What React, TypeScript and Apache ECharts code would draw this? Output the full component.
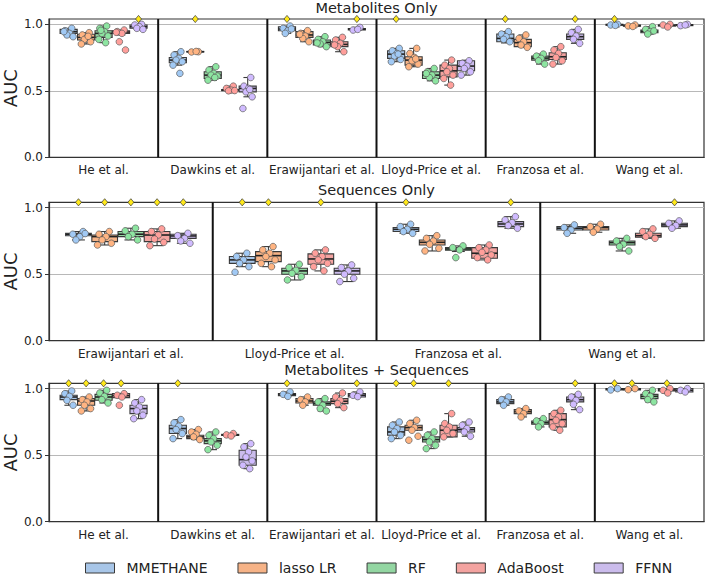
import React, { useEffect, useRef } from "react";
import * as echarts from "echarts";

// Models compared in every study
const MODELS = ["MMETHANE", "lasso LR", "RF", "AdaBoost", "FFNN"];
// Box fills (desaturated pastel) and point fills (pastel)
const BOX_COLORS = ["#a8c6e8", "#f6b387", "#93d6a2", "#f3a3a0", "#cbbcec"];
const POINT_COLORS = ["#a1c9f4", "#ffb482", "#8de5a1", "#ff9f9b", "#d0bbff"];

const TITLES = ["Metabolites Only", "Sequences Only", "Metabolites + Sequences"];
const STUDIES_MET = ["He et al.", "Dawkins et al.", "Erawijantari et al.", "Lloyd-Price et al.", "Franzosa et al.", "Wang et al."];
const STUDIES_SEQ = ["Erawijantari et al.", "Lloyd-Price et al.", "Franzosa et al.", "Wang et al."];
const STUDIES_BOTH = STUDIES_MET;

const Y_TICKS = [0, 0.5, 1.0];
const Y_MAX = 1.04; // row of significance markers sits on the top spine

// Box statistics: [study][model] = [whiskerLow, q1, median, q3, whiskerHigh]
const MET_BOX = [
  [[0.907, 0.932, 0.945, 0.962, 0.970], [0.852, 0.882, 0.902, 0.925, 0.937], [0.862, 0.902, 0.932, 0.952, 0.987], [0.920, 0.932, 0.942, 0.952, 0.957], [0.962, 0.970, 0.982, 0.995, 1.0]],
  [[0.693, 0.711, 0.731, 0.751, 0.794], [0.790, 0.792, 0.794, 0.796, 0.798], [0.580, 0.593, 0.618, 0.643, 0.681], [0.498, 0.500, 0.505, 0.510, 0.535], [0.455, 0.492, 0.518, 0.535, 0.600]],
  [[0.932, 0.952, 0.965, 0.982, 0.987], [0.869, 0.902, 0.920, 0.945, 0.952], [0.832, 0.844, 0.864, 0.882, 0.907], [0.794, 0.832, 0.849, 0.869, 0.902], [0.955, 0.958, 0.963, 0.968, 0.977]],
  [[0.719, 0.744, 0.776, 0.801, 0.819], [0.681, 0.693, 0.731, 0.756, 0.819], [0.575, 0.593, 0.618, 0.643, 0.668], [0.543, 0.605, 0.650, 0.693, 0.731], [0.618, 0.651, 0.686, 0.726, 0.730]],
  [[0.860, 0.869, 0.894, 0.927, 0.945], [0.827, 0.832, 0.862, 0.887, 0.920], [0.701, 0.731, 0.746, 0.761, 0.776], [0.701, 0.736, 0.756, 0.786, 0.832], [0.857, 0.887, 0.907, 0.927, 0.962]],
  [[0.990, 0.993, 0.997, 1.0, 1.0], [0.982, 0.985, 0.990, 0.995, 0.998], [0.927, 0.937, 0.947, 0.957, 0.982], [0.980, 0.987, 0.992, 0.995, 1.0], [0.988, 0.990, 0.995, 0.998, 1.0]],
];
const MET_PTS = [
  [[0.970, 0.952, 0.932, 0.920, 0.907, 0.945], [0.937, 0.920, 0.902, 0.887, 0.869, 0.852, 0.910], [0.987, 0.970, 0.945, 0.932, 0.912, 0.887, 0.862, 0.955], [0.957, 0.945, 0.932, 0.869, 0.807, 0.940], [1.0, 0.995, 0.982, 0.970, 0.962]],
  [[0.794, 0.769, 0.744, 0.731, 0.719, 0.693, 0.631], [0.794, 0.792, 0.796], [0.681, 0.656, 0.631, 0.618, 0.611, 0.580, 0.600], [0.535, 0.518, 0.505, 0.500, 0.502], [0.600, 0.535, 0.518, 0.492, 0.455, 0.367, 0.510]],
  [[0.987, 0.970, 0.952, 0.932, 0.965], [0.952, 0.932, 0.912, 0.894, 0.869, 0.925], [0.907, 0.887, 0.869, 0.852, 0.832, 0.860], [0.902, 0.882, 0.857, 0.832, 0.794, 0.845], [0.977, 0.957, 0.962]],
  [[0.819, 0.801, 0.781, 0.761, 0.736, 0.719, 0.776], [0.819, 0.781, 0.751, 0.726, 0.701, 0.681, 0.740], [0.668, 0.643, 0.618, 0.600, 0.575, 0.630], [0.731, 0.693, 0.668, 0.643, 0.618, 0.593, 0.543], [0.726, 0.706, 0.686, 0.668, 0.643, 0.618]],
  [[0.945, 0.927, 0.907, 0.887, 0.869], [0.920, 0.894, 0.869, 0.844, 0.827], [0.776, 0.761, 0.744, 0.726, 0.701], [0.832, 0.807, 0.781, 0.751, 0.726, 0.701], [0.962, 0.937, 0.912, 0.887, 0.857]],
  [[1.0, 0.995, 0.992], [0.995, 0.988, 0.984], [0.982, 0.962, 0.945, 0.927, 0.950], [1.0, 0.995, 0.980], [1.0, 0.990, 0.995]],
];

const SEQ_BOX = [
  [[0.757, 0.789, 0.800, 0.807, 0.820], [0.719, 0.744, 0.782, 0.794, 0.820], [0.757, 0.782, 0.800, 0.820, 0.845], [0.714, 0.744, 0.794, 0.820, 0.840], [0.732, 0.769, 0.787, 0.800, 0.807]],
  [[0.556, 0.581, 0.607, 0.632, 0.657], [0.556, 0.594, 0.639, 0.669, 0.707], [0.456, 0.499, 0.524, 0.544, 0.574], [0.524, 0.574, 0.614, 0.652, 0.682], [0.444, 0.499, 0.524, 0.544, 0.569]],
  [[0.807, 0.820, 0.837, 0.850, 0.875], [0.674, 0.719, 0.739, 0.757, 0.789], [0.670, 0.679, 0.689, 0.699, 0.712], [0.607, 0.619, 0.657, 0.699, 0.719], [0.845, 0.857, 0.877, 0.895, 0.932]],
  [[0.807, 0.832, 0.845, 0.857, 0.870], [0.815, 0.832, 0.850, 0.857, 0.875], [0.674, 0.719, 0.737, 0.749, 0.769], [0.769, 0.777, 0.789, 0.807, 0.840], [0.845, 0.857, 0.870, 0.882, 0.900]],
];
const SEQ_PTS = [
  [[0.820, 0.800, 0.782, 0.757, 0.805], [0.820, 0.800, 0.782, 0.757, 0.732, 0.719], [0.845, 0.825, 0.800, 0.782, 0.757], [0.840, 0.820, 0.794, 0.764, 0.739, 0.714], [0.807, 0.789, 0.769, 0.749, 0.732]],
  [[0.657, 0.632, 0.607, 0.581, 0.556, 0.514], [0.707, 0.682, 0.657, 0.632, 0.607, 0.581, 0.556], [0.574, 0.549, 0.529, 0.506, 0.481, 0.456], [0.682, 0.657, 0.632, 0.607, 0.581, 0.556, 0.524], [0.569, 0.549, 0.524, 0.499, 0.469, 0.444]],
  [[0.875, 0.857, 0.837, 0.820, 0.807], [0.789, 0.769, 0.749, 0.724, 0.694, 0.674], [0.712, 0.699, 0.682, 0.624], [0.719, 0.699, 0.682, 0.664, 0.644, 0.624, 0.607], [0.932, 0.907, 0.887, 0.865, 0.845]],
  [[0.870, 0.850, 0.832, 0.807], [0.875, 0.857, 0.840, 0.815], [0.769, 0.749, 0.724, 0.707, 0.674], [0.840, 0.820, 0.800, 0.782, 0.769], [0.900, 0.882, 0.865, 0.845]],
];

const BOTH_BOX = [
  [[0.875, 0.917, 0.937, 0.950, 0.982], [0.832, 0.875, 0.907, 0.925, 0.937], [0.892, 0.912, 0.937, 0.957, 0.987], [0.932, 0.932, 0.947, 0.962, 0.962], [0.774, 0.812, 0.850, 0.875, 0.917]],
  [[0.624, 0.662, 0.700, 0.724, 0.767], [0.617, 0.624, 0.637, 0.649, 0.692], [0.541, 0.586, 0.607, 0.624, 0.674], [0.644, 0.648, 0.652, 0.656, 0.662], [0.398, 0.424, 0.466, 0.536, 0.586]],
  [[0.942, 0.947, 0.957, 0.962, 0.975], [0.875, 0.892, 0.907, 0.925, 0.937], [0.832, 0.875, 0.887, 0.900, 0.925], [0.857, 0.887, 0.905, 0.925, 0.967], [0.937, 0.937, 0.950, 0.962, 0.975]],
  [[0.624, 0.649, 0.674, 0.712, 0.749], [0.687, 0.687, 0.707, 0.724, 0.762], [0.549, 0.599, 0.617, 0.637, 0.674], [0.637, 0.637, 0.687, 0.724, 0.812], [0.642, 0.674, 0.692, 0.707, 0.749]],
  [[0.875, 0.887, 0.900, 0.917, 0.937], [0.787, 0.812, 0.827, 0.842, 0.850], [0.712, 0.732, 0.744, 0.757, 0.774], [0.687, 0.712, 0.767, 0.812, 0.837], [0.842, 0.900, 0.917, 0.937, 0.957]],
  [[0.990, 0.990, 0.997, 1.0, 1.0], [0.990, 0.990, 0.997, 1.0, 1.0], [0.900, 0.925, 0.942, 0.957, 0.987], [0.967, 0.982, 0.990, 1.0, 1.0], [0.975, 0.975, 0.987, 1.0, 1.0]],
];
const BOTH_PTS = [
  [[0.982, 0.962, 0.942, 0.912, 0.875], [0.937, 0.917, 0.900, 0.875, 0.850, 0.832], [0.987, 0.967, 0.942, 0.917, 0.892], [0.962, 0.950, 0.937, 0.875], [0.917, 0.892, 0.862, 0.832, 0.800, 0.774]],
  [[0.767, 0.742, 0.717, 0.692, 0.662, 0.624], [0.692, 0.674, 0.657, 0.637, 0.617], [0.674, 0.649, 0.624, 0.599, 0.574, 0.541], [0.662, 0.652, 0.644], [0.586, 0.561, 0.524, 0.486, 0.456, 0.424, 0.398]],
  [[0.975, 0.957, 0.942], [0.937, 0.917, 0.900, 0.875], [0.925, 0.900, 0.875, 0.850, 0.832], [0.967, 0.937, 0.912, 0.887, 0.857], [0.975, 0.950, 0.940]],
  [[0.749, 0.724, 0.699, 0.674, 0.649, 0.624], [0.762, 0.737, 0.707, 0.687, 0.642, 0.612], [0.674, 0.649, 0.624, 0.599, 0.574, 0.549], [0.812, 0.737, 0.712, 0.687, 0.662, 0.637], [0.749, 0.724, 0.699, 0.674, 0.642]],
  [[0.937, 0.917, 0.900, 0.875], [0.850, 0.832, 0.812, 0.787], [0.774, 0.757, 0.737, 0.712], [0.837, 0.812, 0.787, 0.762, 0.737, 0.712, 0.687], [0.957, 0.937, 0.912, 0.882, 0.842]],
  [[1.0, 0.990], [1.0, 0.992], [0.987, 0.962, 0.942, 0.917, 0.900], [1.0, 0.987, 0.967], [1.0, 0.987, 0.975]],
];

// Significance markers: [study index, model index]
const MET_SIG = [[0, 4], [1, 1], [2, 0], [2, 4], [3, 0], [4, 0], [4, 4], [5, 0]];
const SEQ_SIG = [[0, 0], [0, 1], [0, 2], [0, 3], [0, 4], [1, 0], [1, 1], [1, 3], [2, 0], [2, 4], [3, 4]];
const BOTH_SIG = [[0, 0], [0, 1], [0, 2], [0, 3], [1, 0], [2, 0], [2, 4], [3, 0], [3, 1], [3, 3], [4, 4], [5, 0], [5, 1], [5, 3]];

// Horizontal strip-plot spread, as a fraction of box width
const JITTER = [0.18, -0.22, 0.05, -0.1, 0.26, -0.28, 0.12, -0.16, 0.3];

const FONT = "DejaVu Sans";
const EDGE = "#3a3a3a";
const SPINE = "#333333";
const DODGE = 0.16; // per-model share of a study band
const BOX_W = 0.16 * 0.98;

const PANELS = [
  { title: TITLES[0], studies: STUDIES_MET, box: MET_BOX, pts: MET_PTS, sig: MET_SIG, top: 19, titleY: 7.5 },
  { title: TITLES[1], studies: STUDIES_SEQ, box: SEQ_BOX, pts: SEQ_PTS, sig: SEQ_SIG, top: 202.3, titleY: 190 },
  { title: TITLES[2], studies: STUDIES_BOTH, box: BOTH_BOX, pts: BOTH_PTS, sig: BOTH_SIG, top: 383.3, titleY: 370 },
];
const PLOT_H = 138.3;

function modelX(api: any, s: number, k: number) {
  const band = api.size([1, 0])[0];
  return { cx: api.coord([s, 0])[0] + (k - 2) * DODGE * band, w: BOX_W * band, band };
}

function buildOption() {
  const grid: any[] = [];
  const xAxis: any[] = [];
  const yAxis: any[] = [];
  const series: any[] = [];
  const graphic: any[] = [];

  PANELS.forEach((p, pi) => {
    grid.push({
      left: 49, right: 3, top: p.top, height: PLOT_H,
      containLabel: false, outerBoundsMode: "none",
      show: true, borderColor: SPINE, borderWidth: 1.2, backgroundColor: "transparent",
    });
    xAxis.push({
      gridIndex: pi, type: "category", data: p.studies,
      axisLine: { lineStyle: { color: SPINE, width: 1.2 } },
      axisTick: { alignWithLabel: true, length: 4, lineStyle: { color: SPINE, width: 1 } },
      axisLabel: { fontSize: 12, color: "#222", margin: 7, fontFamily: FONT, interval: 0 },
      splitLine: { show: false },
    });
    yAxis.push({
      gridIndex: pi, type: "value", min: 0, max: Y_MAX, interval: 0.5,
      axisLine: { show: true, lineStyle: { color: SPINE, width: 1.2 } },
      axisTick: { show: true, length: 4, customValues: Y_TICKS, lineStyle: { color: SPINE } },
      axisLabel: { customValues: Y_TICKS, formatter: (v: number) => v.toFixed(1), fontSize: 12, color: "#222", margin: 6, fontFamily: FONT },
      splitLine: { show: true, lineStyle: { color: "#b8b8b8", width: 1 } },
      name: "AUC", nameLocation: "middle", nameGap: 30, nameRotate: 90, nameMoveOverlap: false,
      nameTextStyle: { fontSize: 18, color: "#222", fontFamily: FONT },
    });

    // study dividers
    series.push({
      type: "custom", xAxisIndex: pi, yAxisIndex: pi, z: 4, silent: true,
      data: p.studies.slice(1).map((_, i) => [i + 1]),
      encode: { x: 0 },
      renderItem: (params: any, api: any) => {
        const s = api.value(0);
        const band = api.size([1, 0])[0];
        const x = api.coord([s, 0])[0] - band / 2;
        return {
          type: "line",
          shape: { x1: x, y1: api.coord([s, 0])[1], x2: x, y2: api.coord([s, Y_MAX])[1] },
          style: { stroke: "#111", lineWidth: 2 },
        };
      },
    });

    MODELS.forEach((m, k) => {
      // boxes and whiskers
      series.push({
        type: "custom", name: m, xAxisIndex: pi, yAxisIndex: pi, z: 2,
        itemStyle: { color: BOX_COLORS[k], borderColor: EDGE, borderWidth: 1 },
        data: p.studies.map((_, s) => [s, ...p.box[s][k]]),
        encode: { x: 0, y: [1, 2, 3, 4, 5] },
        renderItem: (params: any, api: any) => {
          const s = api.value(0);
          const { cx, w } = modelX(api, s, k);
          const y = (v: number) => api.coord([s, v])[1];
          const lo = y(api.value(1)), q1 = y(api.value(2)), md = y(api.value(3)), q3 = y(api.value(4)), hi = y(api.value(5));
          const ls = { stroke: EDGE, lineWidth: 1.1 };
          return {
            type: "group",
            children: [
              { type: "line", shape: { x1: cx, y1: q1, x2: cx, y2: lo }, style: ls },
              { type: "line", shape: { x1: cx, y1: q3, x2: cx, y2: hi }, style: ls },
              { type: "line", shape: { x1: cx - w / 4, y1: lo, x2: cx + w / 4, y2: lo }, style: ls },
              { type: "line", shape: { x1: cx - w / 4, y1: hi, x2: cx + w / 4, y2: hi }, style: ls },
              { type: "rect", shape: { x: cx - w / 2, y: q3, width: w, height: Math.max(q1 - q3, 0.5) }, style: { fill: BOX_COLORS[k], stroke: EDGE, lineWidth: 1.1 } },
              { type: "line", shape: { x1: cx - w / 2, y1: md, x2: cx + w / 2, y2: md }, style: { stroke: "#222", lineWidth: 1.6 } },
            ],
          };
        },
      });
    });

    MODELS.forEach((m, k) => {
      // individual runs, strip-plotted over the boxes
      const data: number[][] = [];
      p.studies.forEach((_, s) => p.pts[s][k].forEach((v, j) => data.push([s, v, j])));
      series.push({
        type: "custom", name: m, xAxisIndex: pi, yAxisIndex: pi, z: 3,
        itemStyle: { color: BOX_COLORS[k] },
        data,
        encode: { x: 0, y: 1 },
        renderItem: (params: any, api: any) => {
          const s = api.value(0);
          const j = api.value(2);
          const { cx, w } = modelX(api, s, k);
          const [, py] = api.coord([s, api.value(1)]);
          return {
            type: "circle",
            shape: { cx: cx + JITTER[j % JITTER.length] * w, cy: py, r: 3.3 },
            style: { fill: POINT_COLORS[k], stroke: "#5a5a5a", lineWidth: 0.7 },
          };
        },
      });
    });

    // significance diamonds on the top spine
    series.push({
      type: "custom", xAxisIndex: pi, yAxisIndex: pi, z: 6, silent: true,
      data: p.sig.map(([s, k]) => [s, Y_MAX, k]),
      encode: { x: 0, y: 1 },
      renderItem: (params: any, api: any) => {
        const s = api.value(0);
        const k = api.value(2);
        const { cx } = modelX(api, s, k);
        const cy = api.coord([s, api.value(1)])[1];
        return {
          type: "polygon",
          shape: { points: [[cx, cy - 3.6], [cx + 3, cy], [cx, cy + 3.6], [cx - 3, cy]] },
          style: { fill: "#ffe81a", stroke: "#333", lineWidth: 0.7 },
        };
      },
    });

    graphic.push({
      type: "text", x: 376.5, y: p.titleY, silent: true,
      style: { text: p.title, fontSize: 14.5, fontFamily: FONT, fill: "#222", textAlign: "center", textVerticalAlign: "middle" },
    });
  });

  return {
    animation: false,
    backgroundColor: "#ffffff",
    textStyle: { fontFamily: FONT },
    grid, xAxis, yAxis, series, graphic,
    legend: {
      left: 80, top: 556, itemWidth: 29, itemHeight: 10, itemGap: 30, icon: "rect",
      selectedMode: false,
      textStyle: { fontSize: 14, color: "#222", fontFamily: FONT, padding: [0, 0, 0, 7] },
      data: MODELS.map((m, k) => ({
        name: m, icon: "rect",
        itemStyle: { color: BOX_COLORS[k], borderColor: EDGE, borderWidth: 1 },
      })),
    },
  };
}

export default function App() {
  const ref = useRef<HTMLDivElement>(null);
  useEffect(() => {
    if (!ref.current) return;
    const chart = echarts.init(ref.current, undefined, { renderer: "svg" });
    chart.setOption(buildOption());
    return () => chart.dispose();
  }, []);
  return <div ref={ref} style={{ position: "fixed", left: 0, top: 0, width: 707, height: 576 }} />;
}
